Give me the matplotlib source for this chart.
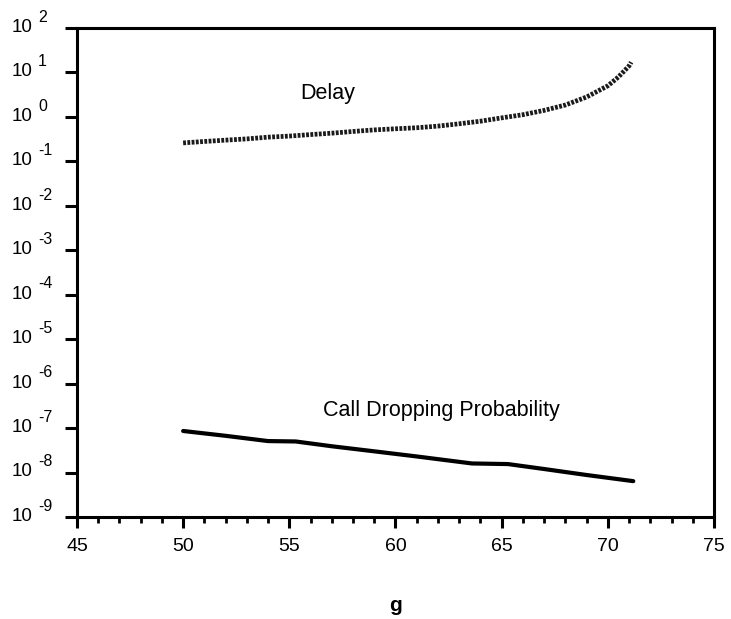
import matplotlib.pyplot as plt
from matplotlib.ticker import FixedLocator, MultipleLocator, NullFormatter

# Delay vs g
delay_g = [50, 51, 52, 53, 54, 55, 56, 57, 58, 59, 60, 61, 62, 63, 64, 65,
           66, 67, 68, 69, 70, 70.5, 71, 71.1]
delay_val = [0.26, 0.28, 0.30, 0.32, 0.35, 0.37, 0.40, 0.43, 0.47, 0.51, 0.54,
             0.57, 0.62, 0.70, 0.80, 0.95, 1.12, 1.4, 1.85, 2.8, 5.0, 7.9,
             14.0, 17.0]

# Call dropping probability vs g
drop_g = [50, 52, 54, 55.3, 57, 59, 61, 63.6, 65.3, 67, 69, 71.2]
drop_val = [8.6e-8, 6.7e-8, 5.1e-8, 5.0e-8, 3.9e-8, 3.0e-8, 2.3e-8, 1.6e-8,
            1.55e-8, 1.2e-8, 8.8e-9, 6.4e-9]

y_exps = list(range(-9, 3))

plt.rcParams['font.family'] = ['Liberation Sans', 'DejaVu Sans']

fig = plt.figure(figsize=(7.31, 6.19), dpi=100)
ax = fig.add_axes([0.1053, 0.1648, 0.8714, 0.79])

# delay curve: textured (rope-like) stroke
ax.plot(delay_g, delay_val, color='#1a1a1a', linewidth=3.4,
        linestyle=(0, (0.6, 0.3)), solid_capstyle='butt')
ax.plot(drop_g, drop_val, color='black', linewidth=3.0,
        solid_capstyle='round')

ax.set_yscale('log')
ax.set_xlim(45, 75)
ax.set_ylim(1e-9, 1e2)

ax.yaxis.set_major_locator(FixedLocator([10.0 ** e for e in y_exps]))
ax.yaxis.set_minor_locator(FixedLocator([]))
ax.yaxis.set_major_formatter(NullFormatter())
ax.xaxis.set_major_locator(MultipleLocator(5))
ax.xaxis.set_minor_locator(MultipleLocator(1))

for spine in ax.spines.values():
    spine.set_linewidth(2.2)

ax.tick_params(axis='y', which='major', direction='out', length=8.5,
               width=2.2)
ax.tick_params(axis='x', which='major', direction='out', length=8,
               width=2.2, labelsize=14, pad=7)
ax.tick_params(axis='x', which='minor', direction='out', length=4.5, width=2.0)

# y tick labels drawn as "10" plus a raised exponent
for e in y_exps:
    ax.annotate('10', xy=(0, 10.0 ** e), xycoords=('axes fraction', 'data'),
                xytext=(-47, -2.8), textcoords='offset points',
                ha='left', va='baseline', fontsize=13.5)
    ax.annotate(str(e), xy=(0, 10.0 ** e),
                xycoords=('axes fraction', 'data'),
                xytext=(-28, 4.5), textcoords='offset points',
                ha='left', va='baseline', fontsize=11.5)

ax.text(56.8, 3.4, 'Delay', fontsize=15.5, ha='center', va='center')
ax.text(56.6, 2.5e-7, 'Call Dropping Probability', fontsize=15.5,
        ha='left', va='center')

ax.set_xlabel('g', fontsize=15, fontweight='bold', labelpad=30)

fig.savefig('out.png', dpi=100)
